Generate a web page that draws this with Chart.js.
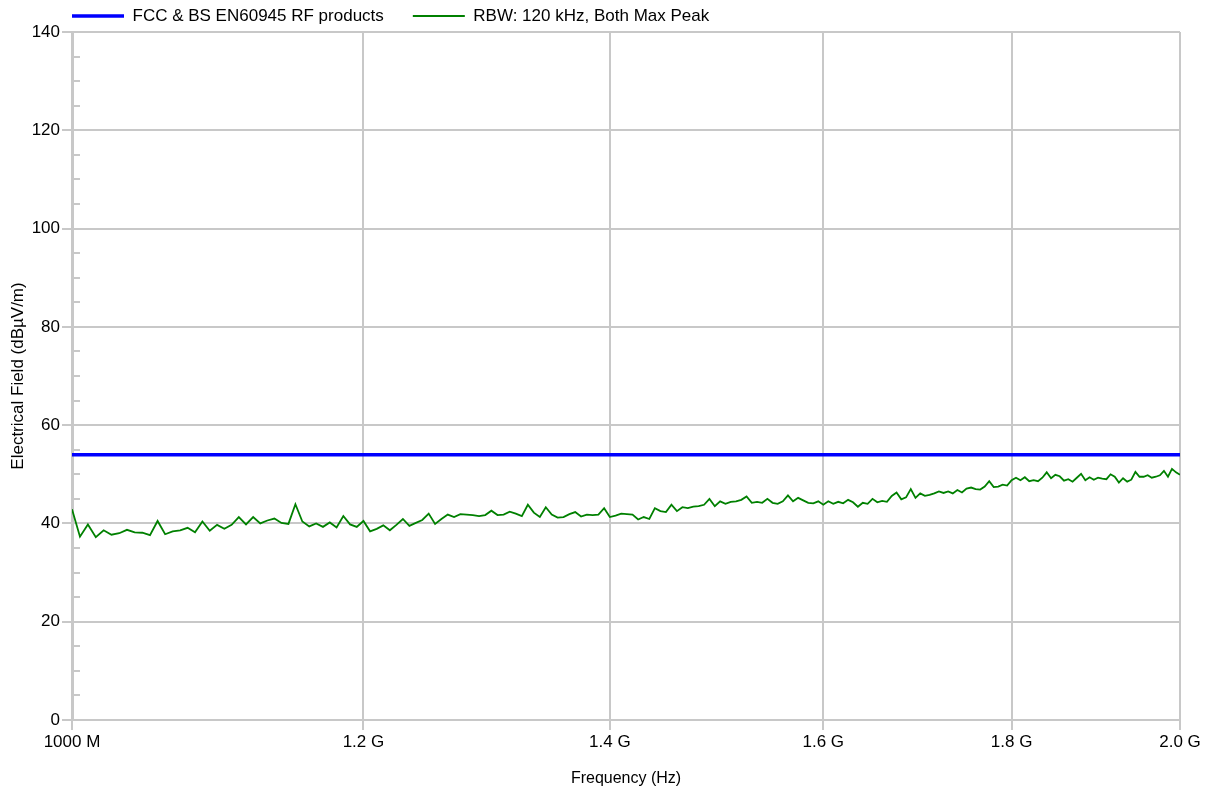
<!DOCTYPE html>
<html>
<head>
<meta charset="utf-8">
<script src="https://cdn.jsdelivr.net/npm/chart.js@4.4.0/dist/chart.umd.min.js"></script>
<style>
  html, body { margin: 0; padding: 0; background: #fff; }
</style>
</head>
<body>
<canvas id="myChart" width="1213" height="796"></canvas>
<script>
var freqMHz = [
  1000, 1005, 1010, 1015, 1020, 1025, 1030, 1035, 1040, 1045,
  1050, 1055, 1060, 1065, 1070, 1075, 1080, 1085, 1090, 1095,
  1100, 1105, 1110, 1115, 1120, 1125, 1130, 1135, 1140, 1145,
  1150, 1155, 1160, 1165, 1170, 1175, 1180, 1185, 1190, 1195,
  1200, 1205, 1210, 1215, 1220, 1225, 1230, 1235, 1240, 1245,
  1250, 1255, 1260, 1265, 1270, 1275, 1280, 1285, 1290, 1295,
  1300, 1305, 1310, 1315, 1320, 1325, 1330, 1335, 1340, 1345,
  1350, 1355, 1360, 1365, 1370, 1375, 1380, 1385, 1390, 1395,
  1400, 1405, 1410, 1415, 1420, 1425, 1430, 1435, 1440, 1445,
  1450, 1455, 1460, 1465, 1470, 1475, 1480, 1485, 1490, 1495,
  1500, 1505, 1510, 1515, 1520, 1525, 1530, 1535, 1540, 1545,
  1550, 1555, 1560, 1565, 1570, 1575, 1580, 1585, 1590, 1595,
  1600, 1605, 1610, 1615, 1620, 1625, 1630, 1635, 1640, 1645,
  1650, 1655, 1660, 1665, 1670, 1675, 1680, 1685, 1690, 1695,
  1700, 1705, 1710, 1715, 1720, 1725, 1730, 1735, 1740, 1745,
  1750, 1755, 1760, 1765, 1770, 1775, 1780, 1785, 1790, 1795,
  1800, 1805, 1810, 1815, 1820, 1825, 1830, 1835, 1840, 1845,
  1850, 1855, 1860, 1865, 1870, 1875, 1880, 1885, 1890, 1895,
  1900, 1905, 1910, 1915, 1920, 1925, 1930, 1935, 1940, 1945,
  1950, 1955, 1960, 1965, 1970, 1975, 1980, 1985, 1990, 1995, 2000
];
var rbwLevel = [
  42.9, 37.3, 39.8, 37.2, 38.6, 37.7, 38.0, 38.7, 38.2, 38.1,
  37.6, 40.5, 37.8, 38.4, 38.6, 39.1, 38.2, 40.4, 38.5, 39.7,
  38.9, 39.7, 41.3, 39.8, 41.3, 40.0, 40.6, 41.0, 40.1, 39.9,
  43.9, 40.4, 39.4, 40.0, 39.3, 40.2, 39.2, 41.5, 39.8, 39.3,
  40.5, 38.4, 38.9, 39.6, 38.6, 39.7, 40.9, 39.5, 40.1, 40.7,
  42.0, 39.9, 40.9, 41.8, 41.3, 41.9, 41.8, 41.7, 41.5, 41.7,
  42.6, 41.7, 41.8, 42.4, 42.0, 41.5, 43.8, 42.2, 41.3, 43.3,
  41.8, 41.2, 41.3, 41.9, 42.3, 41.4, 41.8, 41.7, 41.8, 43.1,
  41.3, 41.6, 42.0, 41.9, 41.8, 40.8, 41.3, 40.9, 43.1, 42.5,
  42.3, 43.8, 42.5, 43.3, 43.1, 43.4, 43.5, 43.8, 45.0, 43.5,
  44.5, 44.0, 44.4, 44.5, 44.8, 45.5, 44.2, 44.4, 44.2, 45.0,
  44.2, 44.0, 44.5, 45.7, 44.5, 45.2, 44.7, 44.2, 44.1, 44.5,
  43.8, 44.5, 44.0, 44.4, 44.1, 44.8, 44.3, 43.4, 44.2, 44.0,
  45.0, 44.3, 44.6, 44.4, 45.6, 46.3, 44.9, 45.3, 47.0, 45.2,
  46.1, 45.6, 45.8, 46.1, 46.5, 46.2, 46.5, 46.1, 46.8, 46.3,
  47.1, 47.3, 47.0, 46.9, 47.5, 48.6, 47.4, 47.5, 47.9, 47.7,
  48.8, 49.3, 48.8, 49.4, 48.6, 48.8, 48.6, 49.3, 50.4, 49.2,
  49.9, 49.6, 48.7, 49.0, 48.5, 49.3, 50.1, 48.8, 49.4, 48.9,
  49.3, 49.1, 49.0, 50.0, 49.5, 48.3, 49.2, 48.5, 48.9, 50.5,
  49.5, 49.5, 49.8, 49.3, 49.5, 49.8, 50.7, 49.5, 51.1, 50.4, 49.9
];
var limitFreqMHz = [1000, 2000];
var limitLevel = [54, 54];

var xTickValues = [1000, 1200, 1400, 1600, 1800, 2000];
var xTickLabels = ["1000 M", "1.2 G", "1.4 G", "1.6 G", "1.8 G", "2.0 G"];
var yMin = 0, yMax = 140, yStep = 20, yMinorStep = 5;

var gridColor = "#c8c8c8";
Chart.defaults.font.family = '"Liberation Sans", Arial, sans-serif';
Chart.defaults.color = "#000";

function toPoints(xs, ys) {
  return xs.map(function(x, i) { return { x: x, y: ys[i] }; });
}

// legend sits over the plot's left edge; minor ticks on the inside of the y axis
var tweaks = {
  id: "tweaks",
  afterLayout: function(chart) {
    var lg = chart.legend;
    var pad = lg.options.labels.padding;
    lg.left -= pad;
    lg.right -= pad;
    // only move the top up, so the legend's clip box still reaches the plot
    lg.top -= pad - 7.5;
  },
  beforeDatasetsDraw: function(chart) {
    var y = chart.scales.y;
    var ctx = chart.ctx;
    var left = chart.chartArea.left;
    ctx.save();
    ctx.strokeStyle = gridColor;
    ctx.lineWidth = 2;
    for (var v = yMin + yMinorStep; v < yMax; v += yMinorStep) {
      if (v % yStep === 0) continue;
      var py = Math.round(y.getPixelForValue(v));
      ctx.beginPath();
      ctx.moveTo(left, py);
      ctx.lineTo(left + 8, py);
      ctx.stroke();
    }
    ctx.restore();
  }
};

new Chart(document.getElementById("myChart"), {
  type: "line",
  data: {
    datasets: [
      {
        label: "FCC & BS EN60945 RF products",
        data: toPoints(limitFreqMHz, limitLevel),
        borderColor: "#0000ff",
        backgroundColor: "#0000ff",
        borderWidth: 3.5,
        pointRadius: 0
      },
      {
        label: "RBW: 120 kHz, Both Max Peak",
        data: toPoints(freqMHz, rbwLevel),
        borderColor: "#008000",
        backgroundColor: "#008000",
        borderWidth: 1.8,
        pointRadius: 0
      }
    ]
  },
  options: {
    responsive: false,
    animation: false,
    layout: { padding: { right: 33 } },
    plugins: {
      tooltip: { enabled: false },
      legend: {
        position: "top",
        align: "start",
        fullSize: false,
        maxHeight: 32,
        labels: {
          boxWidth: 52,
          boxHeight: 0,
          padding: 29,
          font: { size: 17 }
        }
      }
    },
    scales: {
      x: {
        type: "logarithmic",
        min: 1000,
        max: 2000,
        afterBuildTicks: function(scale) {
          scale.ticks = xTickValues.map(function(v) { return { value: v }; });
        },
        afterFit: function(scale) { scale.height = 76; },
        ticks: {
          autoSkip: false,
          maxRotation: 0,
          padding: 2,
          font: { size: 17 },
          callback: function(v, i) { return xTickLabels[i]; }
        },
        grid: { color: gridColor, lineWidth: 2, tickLength: 10 },
        border: { color: gridColor, width: 2 },
        title: {
          display: true,
          text: "Frequency (Hz)",
          font: { size: 16 },
          padding: { top: 0, bottom: 8 }
        }
      },
      y: {
        min: yMin,
        max: yMax,
        afterFit: function(scale) { scale.width = 72; },
        ticks: { stepSize: yStep, padding: 2, font: { size: 17 } },
        grid: { color: gridColor, lineWidth: 2, tickLength: 10 },
        border: { color: gridColor, width: 3 },
        title: {
          display: true,
          text: "Electrical Field (dBµV/m)",
          font: { size: 17 },
          padding: { top: 8, bottom: 0 }
        }
      }
    }
  },
  plugins: [tweaks]
});
</script>
</body>
</html>
